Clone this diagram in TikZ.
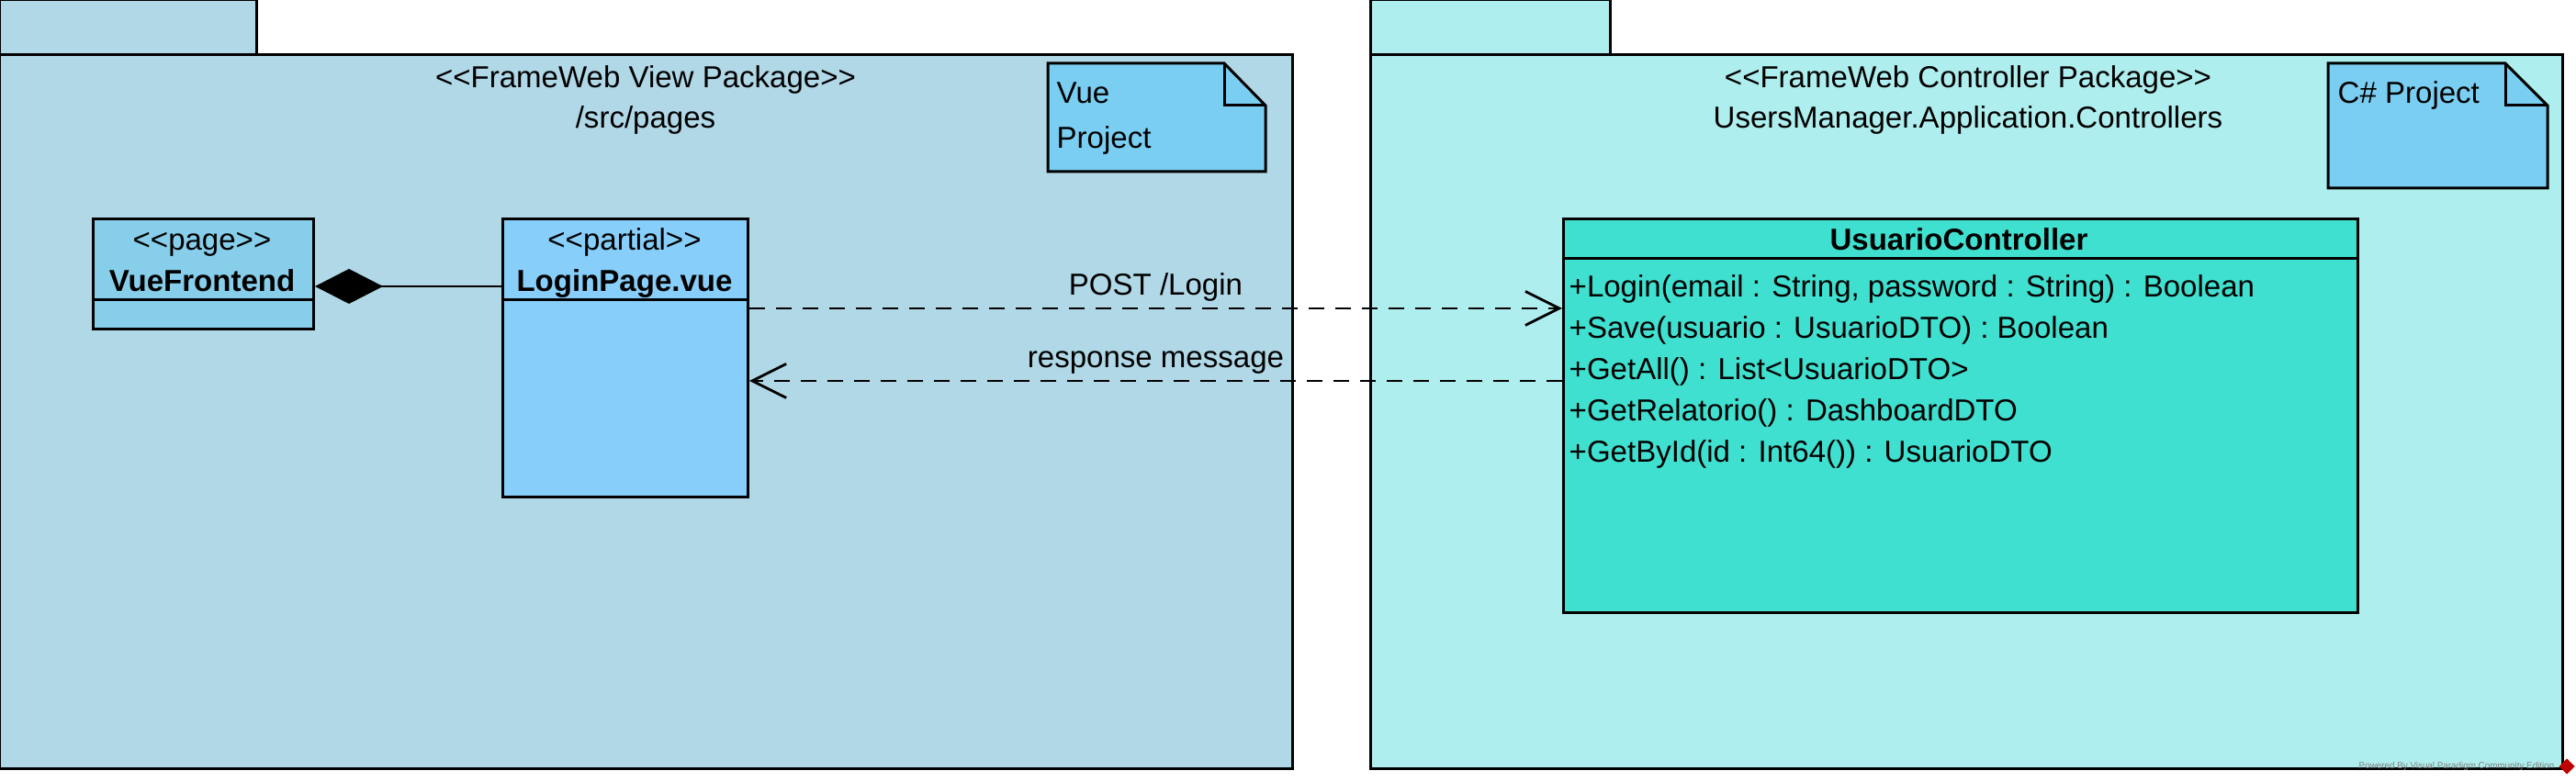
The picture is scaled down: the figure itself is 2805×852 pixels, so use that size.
\documentclass[tikz,border=0pt]{standalone}
\usepackage{fontspec}
\setmainfont{Liberation Sans}
\usetikzlibrary{arrows.meta}

\definecolor{viewpkg}{RGB}{176,216,230}
\definecolor{ctrlpkg}{RGB}{175,238,238}
\definecolor{pagecls}{RGB}{135,206,235}
\definecolor{partialcls}{RGB}{135,206,250}
\definecolor{notefill}{RGB}{122,206,242}
\definecolor{ctrlcls}{RGB}{64,224,208}

\newcommand{\stereo}[1]{<\kern0pt<#1>\kern0pt>}

\begin{document}
\begin{tikzpicture}[x=0.1mm, y=-0.1mm,
    every node/.style={font=\fontsize{9.4}{11}\selectfont, inner sep=0pt},
    pkg/.style={draw, line width=0.3mm},
    cls/.style={draw, line width=0.3mm, anchor=north west},
    lbl/.style={anchor=base},
    msg/.style={line width=0.28mm, dash pattern=on 1.7mm off 1.2mm,
        -{Straight Barb[length=3.7mm, width=3.7mm]}}]

    \fill[white] (0,0) rectangle (2805,852);
    \useasboundingbox (0,0) rectangle (2805,852);

    % View package
    \begin{scope}
        \draw[pkg, fill=viewpkg] (0,0) rectangle (279,60);
        \draw[pkg, fill=viewpkg] (0,60) rectangle (1407,838);
        \node[lbl] (viewst) at (703,96) {\stereo{FrameWeb View Package}};
        \node[lbl] (viewname) at (703,140) {/src/pages};

        % Note
        \draw[line width=0.3mm, fill=notefill] (1141,69) -- (1333,69) -- (1378,115) -- (1378,187) -- (1141,187) -- cycle;
        \draw[line width=0.3mm] (1333,69) -- (1333,115) -- (1378,115);
        \node[lbl, anchor=base west] (vuenote1) at (1150,113) {Vue};
        \node[lbl, anchor=base west] (vuenote2) at (1150,162) {Project};

        % Classes
        \node[cls, fill=pagecls, minimum width=24mm, minimum height=12mm] (vue) at (100,237) {};
        \draw[line width=0.3mm] ([yshift=-9mm]vue.north west) -- ([yshift=-9mm]vue.north east);
        \node[lbl] (vuest) at (220,273) {\stereo{page}};
        \node[lbl] (vuename) at (220,318) {\textbf{VueFrontend}};

        \node[cls, fill=partialcls, minimum width=26.7mm, minimum height=30.3mm] (login) at (546,237) {};
        \draw[line width=0.3mm] ([yshift=-9mm]login.north west) -- ([yshift=-9mm]login.north east);
        \node[lbl] (loginst) at (680,273) {\stereo{partial}};
        \node[lbl] (loginname) at (680,318) {\textbf{LoginPage.vue}};
    \end{scope}

    % Controller package
    \begin{scope}
        \draw[pkg, fill=ctrlpkg] (1492,0) rectangle (1753,60);
        \draw[pkg, fill=ctrlpkg] (1492,60) rectangle (2790,838);
        \node[lbl] (ctrlst) at (2143,96) {\stereo{FrameWeb Controller Package}};
        \node[lbl] (ctrlname) at (2143,140) {UsersManager.Application.Controllers};

        % Note
        \draw[line width=0.3mm, fill=notefill] (2535,69) -- (2728,69) -- (2774,115) -- (2774,205) -- (2535,205) -- cycle;
        \draw[line width=0.3mm] (2728,69) -- (2728,115) -- (2774,115);
        \node[lbl, anchor=base west] (csnote) at (2545,113) {C\# Project};

        % Class
        \node[cls, fill=ctrlcls, minimum width=86.5mm, minimum height=42.9mm] (ctrl) at (1701,237) {};
        \draw[line width=0.3mm] ([yshift=-4.5mm]ctrl.north west) -- ([yshift=-4.5mm]ctrl.north east);
        \node[lbl] (ctrlcls) at (2133,273) {\textbf{UsuarioController}};
        \foreach \i/\m in {0/{+Login(email : String, password : String) : Boolean},
                           1/{+Save(usuario : UsuarioDTO) : Boolean},
                           2/{+GetAll() : List<UsuarioDTO>},
                           3/{+GetRelatorio() : DashboardDTO},
                           4/{+GetById(id : Int64()) : UsuarioDTO}} {
            \node[lbl, anchor=base west] (op\i) at (1708,{324+45*\i}) {\m};
        }
    \end{scope}

    % Connectors
    \draw[line width=0.28mm, {Diamond[length=7.4mm, width=3.8mm]}-]
        ([yshift=-7.5mm]vue.north east) -- ([yshift=-7.5mm]login.north west);
    \draw[msg] ([yshift=-9.9mm]login.north east) --
        node[lbl, yshift=1.4mm] (post) {POST /Login} ([yshift=-9.9mm]ctrl.north west);
    \draw[msg] ([yshift=-17.8mm]ctrl.north west) --
        node[lbl, yshift=1.4mm] (resp) {response message} ([yshift=-17.8mm]login.north east);

    % Watermark
    \node[anchor=base east, font=\fontsize{2.8}{3}\selectfont, text=gray] (wm) at (2782,838) {Powered By Visual Paradigm Community Edition};
    \fill[red!75!black, rotate around={45:(2795,835)}] (2789,829) rectangle (2801,841);
\end{tikzpicture}
\end{document}
